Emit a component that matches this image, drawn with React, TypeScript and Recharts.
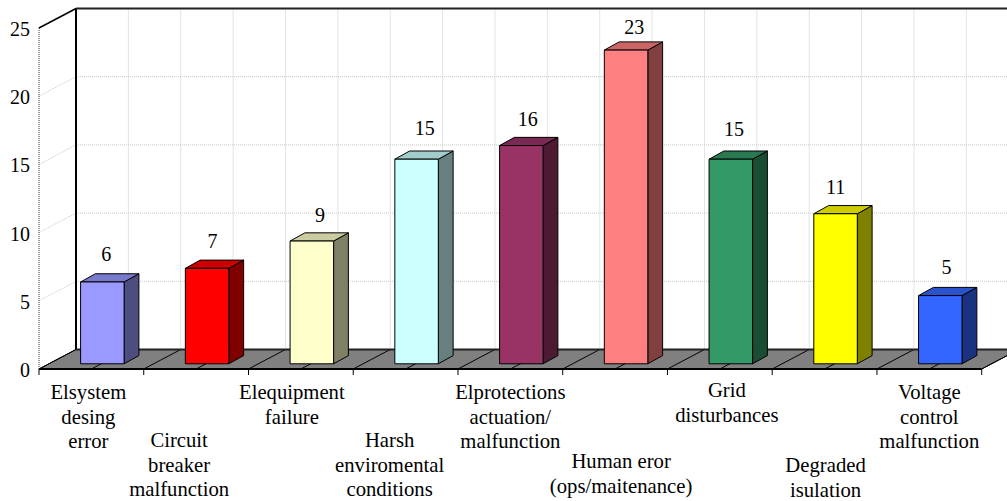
import { BarChart, Bar, XAxis, YAxis, CartesianGrid } from 'recharts';

const categories = [
  'Elsystem\ndesing\nerror',
  'Circuit\nbreaker\nmalfunction',
  'Elequipment\nfailure',
  'Harsh\nenviromental\nconditions',
  'Elprotections\nactuation/\nmalfunction',
  'Human eror\n(ops/maitenance)',
  'Grid\ndisturbances',
  'Degraded\nisulation',
  'Voltage\ncontrol\nmalfunction',
];
const counts = [6, 7, 9, 15, 16, 23, 15, 11, 5];
const yTicks = [0, 5, 10, 15, 20, 25];

const frontColors = ['#9999ff', '#ff0000', '#ffffcc', '#ccffff', '#993366', '#ff8080', '#339966', '#ffff00', '#3366ff'];
const topColors = ['#7a7acc', '#cc0000', '#cccca3', '#a3cccc', '#7a2952', '#cc6666', '#297a52', '#cccc00', '#2952cc'];
const sideColors = ['#4d4d80', '#800000', '#808066', '#668080', '#4d1a33', '#804040', '#1a4d33', '#808000', '#1a3380'];

// staggered category labels: horizontal nudge and first line y
const labelNudge = [-3, -17, -9, -16, 0, 6, 7, 1, 0];
const labelTop = [399, 447, 399, 447, 399, 468, 397, 472, 399];

// value labels do not sit at a fixed distance from the bars
const valueNudgeX = [-4.3, -2.7, 0, 0, -1.6, 0, -5, -8, -2];
const valueNudgeY = [-6, -5.7, -4, -9.6, -5, -1.5, -8.6, -5, -7];

const chartData = categories.map((name, i) => ({ name, count: counts[i] }));

const W = 1007;
const H = 501;
const LEFT = 39;
const RIGHT = 981.7;
const TOP = 28;
const BOTTOM = 369;
const DEPTH_X = 37;
const DEPTH_Y = 19.5;
const BAND = (RIGHT - LEFT) / categories.length;
const FONT = '"Liberation Serif", "Times New Roman", serif';

function BackFrame() {
  const halfBands = Array.from({ length: categories.length * 2 + 1 }, (_, i) => LEFT + (i * BAND) / 2);
  const bx = DEPTH_X;
  const by = BOTTOM - DEPTH_Y;
  const ty = TOP - DEPTH_Y;
  return (
    <g>
      {halfBands.slice(1).map((x) => (
        <line key={x} x1={x + bx} x2={x + bx} y1={ty} y2={by} stroke="#c8c8c8" strokeDasharray="1 1" />
      ))}
      <polygon
        points={`${LEFT},${BOTTOM} ${LEFT + bx},${by} ${RIGHT + bx},${by} ${RIGHT},${BOTTOM}`}
        fill="#808080"
        stroke="#000"
      />
      {halfBands.map((x) => (
        <line key={x} x1={x} x2={x + bx} y1={BOTTOM} y2={by} stroke="#000" />
      ))}
      <line x1={LEFT + bx} x2={LEFT + bx} y1={ty} y2={by} stroke="#000" strokeWidth={2} />
      <line x1={LEFT + bx} x2={W + 20} y1={ty} y2={ty} stroke="#222" strokeWidth={2} />
      <line x1={LEFT + bx} x2={W + 20} y1={by} y2={by} stroke="#222" strokeWidth={2} />
      <line x1={LEFT} x2={LEFT + bx} y1={TOP} y2={ty} stroke="#000" strokeWidth={1.5} />
      {halfBands
        .filter((_, i) => i % 2 === 0)
        .map((x) => (
          <line key={x} x1={x} x2={x} y1={BOTTOM} y2={BOTTOM + 6} stroke="#000" />
        ))}
    </g>
  );
}

function gridLine(props: any) {
  const { y1, x1 } = props;
  if (y1 <= TOP + 1 || y1 >= BOTTOM - 1) return <g key={y1} />;
  return (
    <g key={y1}>
      <line x1={x1} x2={x1 + DEPTH_X} y1={y1} y2={y1 - DEPTH_Y} stroke="#c8c8c8" strokeDasharray="1 1" />
      <line x1={x1 + DEPTH_X} x2={W + 20} y1={y1 - DEPTH_Y} y2={y1 - DEPTH_Y} stroke="#c8c8c8" strokeDasharray="1 1" />
    </g>
  );
}

// front face sits part way back on the floor
const SHIFT_X = 10.6;
const SHIFT_Y = -5.2;
const BAR_DX = 14.8;
const BAR_DY = -8.2;

function Bar3D(props: any) {
  const { x, y, width, height, index } = props;
  const l = x + SHIFT_X;
  const r = l + width;
  const t = y + SHIFT_Y;
  const b = t + height;
  return (
    <g stroke="#000" strokeWidth={1} strokeLinejoin="round">
      <polygon points={`${r},${t} ${r + BAR_DX},${t + BAR_DY} ${r + BAR_DX},${b + BAR_DY} ${r},${b}`} fill={sideColors[index]} />
      <polygon points={`${l},${t} ${l + BAR_DX},${t + BAR_DY} ${r + BAR_DX},${t + BAR_DY} ${r},${t}`} fill={topColors[index]} />
      <rect x={l} y={t} width={width} height={height} fill={frontColors[index]} />
    </g>
  );
}

function ValueLabel(props: any) {
  const { x, y, width, value, index } = props;
  return (
    <text
      x={x + width / 2 + 18.7 + valueNudgeX[index]}
      y={y - 20 + valueNudgeY[index]}
      textAnchor="middle"
      fontFamily={FONT}
      fontSize={20}
      fill="#000"
    >
      {value}
    </text>
  );
}

function YTick(props: any) {
  const { y, payload } = props;
  return (
    <text x={30} y={y + 8} textAnchor="end" fontFamily={FONT} fontSize={20} fill="#000">
      {payload.value}
    </text>
  );
}

function XTick(props: any) {
  const { x, index, payload } = props;
  const lines = String(payload.value).split('\n');
  return (
    <text textAnchor="middle" fontFamily={FONT} fontSize={20.7} fill="#000">
      {lines.map((line: string, i: number) => (
        <tspan key={line} x={x + labelNudge[index]} y={labelTop[index] + i * 24.6}>
          {line}
        </tspan>
      ))}
    </text>
  );
}

export default function App() {
  return (
    <div style={{ position: 'absolute', left: 0, top: 0, width: W, height: H, overflow: 'hidden', background: '#fff' }}>
      <BarChart
        width={W}
        height={H}
        data={chartData}
        margin={{ top: TOP, right: W - RIGHT, left: 0, bottom: 0 }}
        barSize={43.5}
      >
        <CartesianGrid horizontal={gridLine} vertical={false} />
        <BackFrame />
        <XAxis
          dataKey="name"
          height={H - BOTTOM}
          interval={0}
          tickLine={false}
          axisLine={{ stroke: '#000', strokeWidth: 2 }}
          tick={<XTick />}
        />
        <YAxis
          width={LEFT}
          domain={[0, 25]}
          ticks={yTicks}
          tickLine={false}
          axisLine={{ stroke: '#333', strokeDasharray: '1 1' }}
          tick={<YTick />}
        />
        <Bar dataKey="count" isAnimationActive={false} shape={<Bar3D />} label={<ValueLabel />} />
      </BarChart>
    </div>
  );
}
